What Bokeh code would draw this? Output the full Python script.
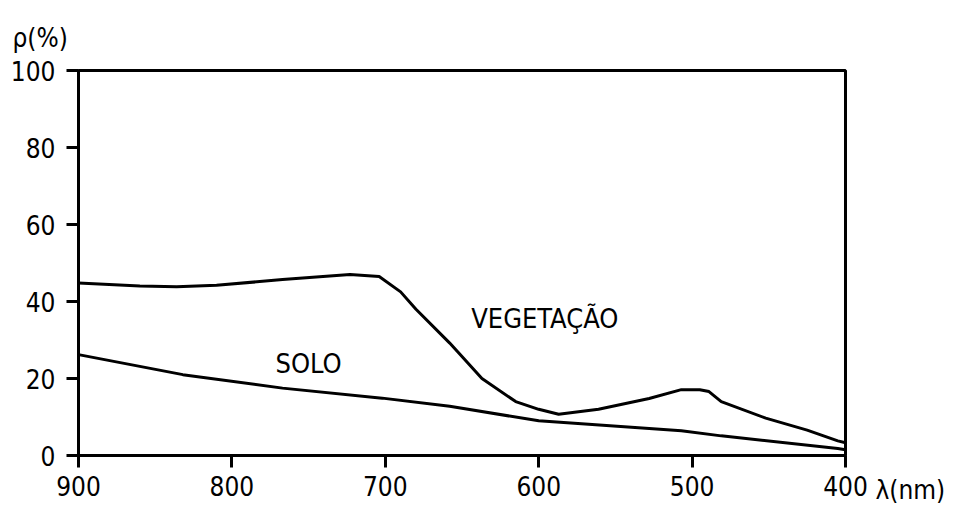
from bokeh.plotting import figure
from bokeh.models import Range1d, Label, FixedTicker, LinearAxis
from bokeh.embed import file_html
from bokeh.resources import INLINE

# data
veg_x = [900, 860, 836, 810, 767, 723, 704, 690, 680, 658, 637, 615, 600, 587, 561, 528, 507, 495, 489, 481, 452, 425, 405, 400]
veg_y = [44.8, 44.0, 43.8, 44.2, 45.7, 47.0, 46.5, 42.5, 38.0, 29.2, 20.0, 14.0, 12.0, 10.7, 12.0, 14.8, 17.1, 17.1, 16.6, 14.0, 9.7, 6.6, 3.8, 3.3]
solo_x = [900, 832, 767, 702, 658, 600, 507, 481, 405, 400]
solo_y = [26.2, 21.0, 17.5, 14.9, 12.8, 9.0, 6.4, 5.1, 1.8, 1.5]
x_ticks = [900, 800, 700, 600, 500, 400]
y_ticks = [0, 20, 40, 60, 80, 100]
label_veg = "VEGETAÇÃO"
label_solo = "SOLO"
y_title = "ρ(%)"
x_title = "λ(nm)"

FONT = "DejaVu Sans Condensed"
FS = "26px"

p = figure(width=948, height=505, output_backend="svg", toolbar_location=None,
           x_range=Range1d(900, 400), y_range=Range1d(0, 100),
           min_border_left=78, min_border_right=101, min_border_top=70, min_border_bottom=50)
p.xgrid.visible = False
p.ygrid.visible = False
p.outline_line_color = "black"
p.outline_line_width = 3
p.outline_line_alpha = 1
p.background_fill_color = "white"
p.border_fill_color = "white"

for ax in (p.xaxis[0], p.yaxis[0]):
    ax.axis_line_width = 3
    ax.axis_line_color = "black"
    ax.major_tick_line_width = 3
    ax.major_tick_line_color = "black"
    ax.minor_tick_line_color = None
    ax.major_tick_in = 0
    ax.major_tick_out = 12
    ax.major_label_text_font = FONT
    ax.major_label_text_font_size = FS
    ax.major_label_text_color = "black"

p.xaxis[0].ticker = FixedTicker(ticks=x_ticks)
p.yaxis[0].ticker = FixedTicker(ticks=y_ticks)
p.xaxis[0].major_label_standoff = 8
p.yaxis[0].major_label_standoff = 11

# axis-unit label on the right, on the row of the x tick labels
p.extra_y_ranges = {"lam": Range1d(0, 100)}
lam_axis = LinearAxis(y_range_name="lam", ticker=FixedTicker(ticks=[0]),
                      major_label_overrides={0: "\n\n" + x_title},
                      axis_line_color=None, major_tick_line_color=None, minor_tick_line_color=None,
                      major_tick_in=0, major_tick_out=0, major_label_standoff=30,
                      major_label_text_font=FONT, major_label_text_font_size=FS,
                      major_label_text_color="black")
p.add_layout(lam_axis, "right")

# quantity label at the top left
p.title.text = y_title
p.title.align = "left"
p.title.offset = -66
p.title.standoff = 32
p.title.vertical_align = "top"
p.title.text_font = FONT
p.title.text_font_size = FS
p.title.text_font_style = "normal"
p.title.text_color = "black"

p.line(veg_x, veg_y, line_color="black", line_width=3)
p.line(solo_x, solo_y, line_color="black", line_width=3)

p.add_layout(Label(x=596, y=35.5, text=label_veg, text_font=FONT, text_font_size="27px",
                   text_align="center", text_baseline="middle", text_color="black"))
p.add_layout(Label(x=750, y=24, text=label_solo, text_font=FONT, text_font_size="27px",
                   text_align="center", text_baseline="middle", text_color="black"))

open("out.html", "w").write(file_html(p, INLINE))
